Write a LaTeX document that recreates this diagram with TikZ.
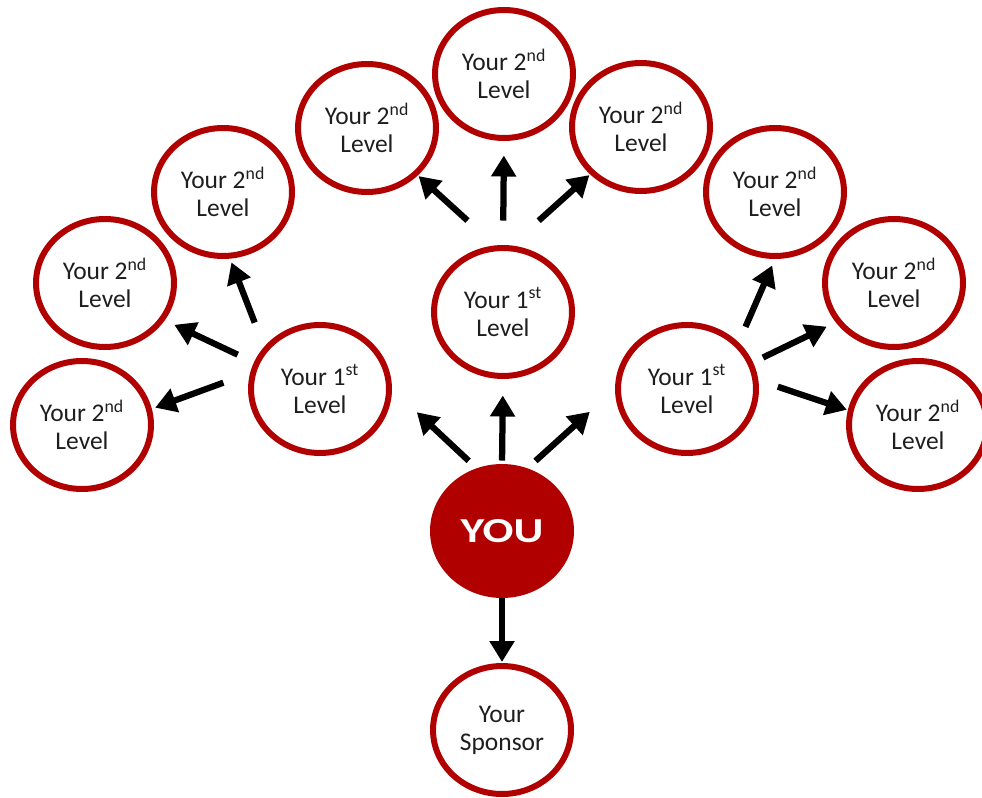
\documentclass[tikz,border=0pt]{standalone}
\usepackage{fontspec}
\usepackage{graphicx}
\setmainfont{Carlito}
\usetikzlibrary{shapes.geometric,arrows.meta}
\definecolor{darkred}{RGB}{176,0,0}
\definecolor{txt}{RGB}{30,30,30}
\begin{document}
\begin{tikzpicture}[x=0.02cm,y=-0.02cm,
    circ/.style={ellipse,draw=darkred,line width=0.12cm,minimum width=2.76cm,
      minimum height=2.56cm,inner sep=0pt,align=center,text=txt,
      font=\fontsize{14.5}{16}\selectfont},
    arr/.style={line width=0.125cm,-{Triangle[length=0.42cm,width=0.48cm]}}]
  \useasboundingbox (0,0) rectangle (982,797);
  % centre and sponsor
  \node[circ,fill=darkred,text=white,font=\bfseries\fontsize{20}{22}\selectfont] (you) at (502,531) {\scalebox{1.3}[1]{YOU}};
  \node[circ] (sp) at (502,730) {Your\\Sponsor};
  % first level
  \node[circ] (m1) at (503,312) {Your 1\textsuperscript{st}\\Level};
  \node[circ] (l1) at (320,389) {Your 1\textsuperscript{st}\\Level};
  \node[circ] (r1) at (687,389) {Your 1\textsuperscript{st}\\Level};
  % second level
  \node[circ] (t)  at (504,74)  {Your 2\textsuperscript{nd}\\Level};
  \node[circ] (tl) at (367,128) {Your 2\textsuperscript{nd}\\Level};
  \node[circ] (tr) at (641,127) {Your 2\textsuperscript{nd}\\Level};
  \node[circ] (ul) at (223,192) {Your 2\textsuperscript{nd}\\Level};
  \node[circ] (ur) at (775,192) {Your 2\textsuperscript{nd}\\Level};
  \node[circ] (ml) at (105,283) {Your 2\textsuperscript{nd}\\Level};
  \node[circ] (mr) at (894,283) {Your 2\textsuperscript{nd}\\Level};
  \node[circ] (bl) at (82,425)  {Your 2\textsuperscript{nd}\\Level};
  \node[circ] (br) at (918,425) {Your 2\textsuperscript{nd}\\Level};
  % arrows
  \draw[arr,shorten <=0.07cm,shorten >=0.33cm] (you.north) -- (m1.south);
  \draw[arr,shorten <=0.22cm,shorten >=0.68cm] (you.112) -- (l1.east);
  \draw[arr,shorten <=0.22cm,shorten >=0.68cm] (you.68) -- (r1.west);
  \draw[arr,shorten >=0.02cm] (you.south) -- (sp.north);
  \draw[arr,shorten <=0.49cm,shorten >=0.29cm] (m1.north) -- (t.south);
  \draw[arr,shorten <=0.74cm,shorten >=0.02cm] (m1.97) -- (tl.-43);
  \draw[arr,shorten <=0.74cm,shorten >=0.02cm] (m1.83) -- (tr.-137);
  \draw[arr,shorten <=0.52cm,shorten >=0.08cm] (l1.143) -- (ul.-84);
  \draw[arr,shorten <=0.36cm,shorten >=0.21cm] (l1.158) -- (ml.-32);
  \draw[arr,shorten <=0.57cm,shorten >=0.07cm] (l1.167) -- (bl.13);
  \draw[arr,shorten <=0.34cm,shorten >=0.14cm] (r1.42) -- (ur.-90);
  \draw[arr,shorten <=0.22cm,shorten >=0.20cm] (r1.22) -- (mr.214);
  \draw[arr,shorten <=0.41cm,shorten >=0.02cm] (r1.7) -- (br.168);
\end{tikzpicture}
\end{document}
